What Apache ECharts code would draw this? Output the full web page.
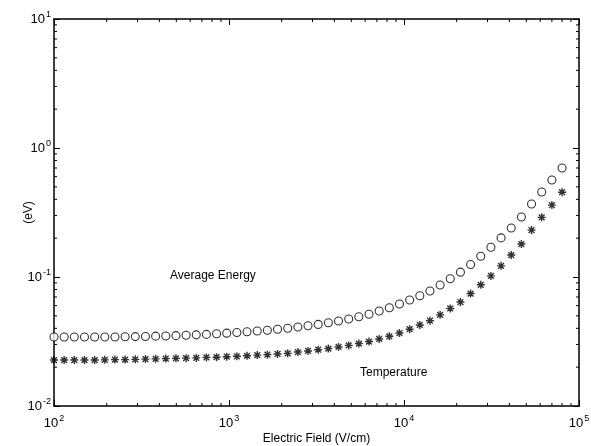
<!DOCTYPE html>
<html>
<head>
<meta charset="utf-8">
<script src="https://cdn.jsdelivr.net/npm/echarts@6/dist/echarts.min.js"></script>
<style>
html, body { margin: 0; padding: 0; background: #fff; }
#chart { width: 591px; height: 446px; }
</style>
</head>
<body>
<div id="chart"></div>
<script>
// electric field (V/cm), same for both series
var fieldValues = [100, 114.3, 130.6, 149.3, 170.7, 195.1, 223.0, 254.9, 291.4, 333.1,
    380.7, 435.2, 497.5, 568.6, 650.0, 743.0, 849.3, 970.5, 1109, 1268,
    1450, 1657, 1894, 2165, 2475, 2829, 3233, 3696, 4225, 4830,
    5521, 6310, 7213, 8245, 9420, 10770, 12310, 14070, 16080, 18380,
    21010, 24020, 27450, 31380, 35860, 41000, 46860, 53570, 61230, 69990, 80000];

// eV
var avgEnergy = [0.0343, 0.0343, 0.0343, 0.0343, 0.0343, 0.0343, 0.0343, 0.0344, 0.0345, 0.0346,
    0.0348, 0.0349, 0.0351, 0.0354, 0.0356, 0.0359, 0.0363, 0.0367, 0.0371, 0.0376,
    0.0381, 0.0387, 0.0394, 0.0401, 0.0410, 0.0419, 0.0429, 0.0442, 0.0456, 0.0473,
    0.0492, 0.0515, 0.0545, 0.0577, 0.0618, 0.0663, 0.0716, 0.0779, 0.0867, 0.0970,
    0.109, 0.125, 0.145, 0.170, 0.201, 0.240, 0.292, 0.368, 0.456, 0.565, 0.700];

var temperature = [0.0227, 0.0227, 0.0227, 0.0227, 0.0227, 0.0228, 0.0229, 0.0229, 0.0230, 0.0231,
    0.0232, 0.0233, 0.0234, 0.0235, 0.0236, 0.0238, 0.0239, 0.0241, 0.0243, 0.0245,
    0.0248, 0.0250, 0.0253, 0.0256, 0.0262, 0.0267, 0.0273, 0.0279, 0.0287, 0.0295,
    0.0305, 0.0316, 0.0331, 0.0347, 0.0368, 0.0394, 0.0425, 0.0458, 0.0509, 0.0570,
    0.0640, 0.0744, 0.0870, 0.102, 0.122, 0.148, 0.180, 0.231, 0.290, 0.361, 0.454];

var xMinorTicks = [200, 300, 400, 500, 600, 700, 800, 900,
    2000, 3000, 4000, 5000, 6000, 7000, 8000, 9000,
    20000, 30000, 40000, 50000, 60000, 70000, 80000, 90000];
var yMinorTicks = [0.02, 0.03, 0.04, 0.05, 0.06, 0.07, 0.08, 0.09,
    0.2, 0.3, 0.4, 0.5, 0.6, 0.7, 0.8, 0.9,
    2, 3, 4, 5, 6, 7, 8, 9];

var FONT = '"Liberation Sans", Arial, sans-serif';
var asterisk = 'path://M0,-5L0,5M-5,0L5,0M-3.6,-3.6L3.6,3.6M-3.6,3.6L3.6,-3.6';

function powLabel(v) {
    var e = Math.round(Math.log10(v));
    return '{b|10}{s|' + e + '}';
}
var richPow = {
    b: { fontSize: 13, fontFamily: FONT, color: '#000' },
    s: { fontSize: 9, fontFamily: FONT, color: '#000', padding: [0, 0, 9, 1] }
};
var axisLine = { show: true, lineStyle: { color: '#000', width: 1.5 } };
var majorTick = { show: true, inside: true, length: 6, lineStyle: { color: '#000', width: 1 } };

function pair(list, y) {
    return list.map(function (v, i) { return [v, y[i]]; });
}

var chart = echarts.init(document.getElementById('chart'));

chart.setOption({
    animation: false,
    backgroundColor: '#fff',
    grid: { left: 54, right: 12, top: 19, bottom: 40, containLabel: false, outerBoundsMode: 'none' },
    xAxis: [{
        type: 'log', logBase: 10, min: 100, max: 100000,
        position: 'bottom',
        name: 'Electric Field (V/cm)', nameLocation: 'middle', nameGap: 27, nameMoveOverlap: false,
        nameTextStyle: { fontSize: 12, fontFamily: FONT, color: '#000' },
        axisLine: axisLine, axisTick: majorTick,
        axisLabel: { formatter: powLabel, rich: richPow, margin: 8 },
        splitLine: { show: false }
    }, {
        type: 'log', logBase: 10, min: 100, max: 100000,
        position: 'top',
        axisLine: axisLine, axisTick: majorTick,
        axisLabel: { show: false }, splitLine: { show: false }
    }],
    yAxis: [{
        type: 'log', logBase: 10, min: 0.01, max: 10,
        position: 'left',
        name: '(eV)', nameLocation: 'middle', nameGap: 19, nameRotate: 90, nameMoveOverlap: false,
        nameTextStyle: { fontSize: 12, fontFamily: FONT, color: '#000' },
        axisLine: axisLine, axisTick: majorTick,
        axisLabel: { formatter: powLabel, rich: richPow, margin: 3 },
        splitLine: { show: false }
    }, {
        type: 'log', logBase: 10, min: 0.01, max: 10,
        position: 'right',
        axisLine: axisLine, axisTick: majorTick,
        axisLabel: { show: false }, splitLine: { show: false }
    }],
    graphic: [
        { type: 'text', left: 170, top: 270, style: { text: 'Average Energy', font: '12px ' + FONT, fill: '#000' } },
        { type: 'text', left: 360, top: 367, style: { text: 'Temperature', font: '12px ' + FONT, fill: '#000' } }
    ],
    series: [{
        name: 'Average Energy',
        type: 'scatter',
        data: pair(fieldValues, avgEnergy),
        symbol: 'circle', symbolSize: 8,
        itemStyle: { color: '#fff', borderColor: '#000', borderWidth: 1.1 }
    }, {
        name: 'Temperature',
        type: 'scatter',
        data: pair(fieldValues, temperature),
        symbol: asterisk, symbolSize: 8,
        itemStyle: { color: 'none', borderColor: '#000', borderWidth: 1.4 }
    }, {
        type: 'custom',
        silent: true,
        data: xMinorTicks.map(function (v) { return [v, 0.01]; }),
        renderItem: function (params, api) {
            var v = api.value(0);
            var b = api.coord([v, 0.01]);
            var t = api.coord([v, 10]);
            var st = { stroke: '#000', lineWidth: 1 };
            return { type: 'group', children: [
                { type: 'line', shape: { x1: b[0], y1: b[1], x2: b[0], y2: b[1] - 3 }, style: st },
                { type: 'line', shape: { x1: t[0], y1: t[1], x2: t[0], y2: t[1] + 3 }, style: st }
            ] };
        }
    }, {
        type: 'custom',
        silent: true,
        data: yMinorTicks.map(function (v) { return [100, v]; }),
        renderItem: function (params, api) {
            var v = api.value(1);
            var l = api.coord([100, v]);
            var r = api.coord([100000, v]);
            var st = { stroke: '#000', lineWidth: 1 };
            return { type: 'group', children: [
                { type: 'line', shape: { x1: l[0], y1: l[1], x2: l[0] + 3, y2: l[1] }, style: st },
                { type: 'line', shape: { x1: r[0], y1: r[1], x2: r[0] - 3, y2: r[1] }, style: st }
            ] };
        }
    }]
});
</script>
</body>
</html>
